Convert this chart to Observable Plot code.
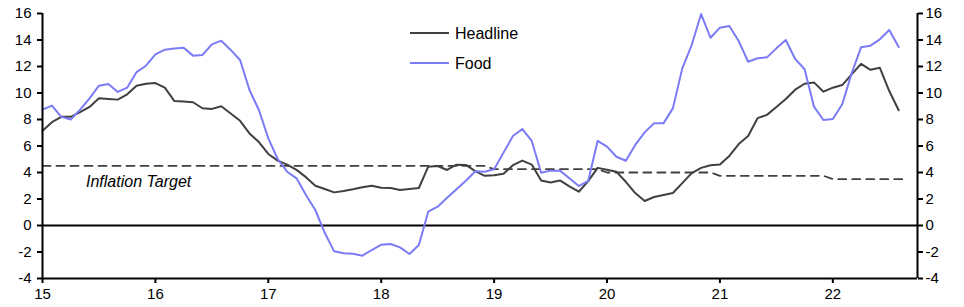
<!DOCTYPE html>
<html>
<head>
<meta charset="utf-8">
<script src="https://cdn.jsdelivr.net/npm/d3@7"></script>
<script src="https://cdn.jsdelivr.net/npm/@observablehq/plot@0.6"></script>
<style>
  html, body { margin: 0; padding: 0; background: #fff; }
  #wrap { position: relative; width: 964px; height: 307px; font-family: "Liberation Sans", Arial, sans-serif; }
  #overlay { position: absolute; left: 0; top: 0; pointer-events: none; }
</style>
</head>
<body>
<div id="wrap"></div>
<script>
// Monthly data, Jan 2015 .. Aug 2022 (y/y %)
const startYear = 2015;
const headline = [
  7.15, 7.8, 8.2, 8.2, 8.55, 8.95, 9.6, 9.55, 9.5, 9.9, 10.55, 10.7,
  10.75, 10.4, 9.4, 9.35, 9.3, 8.85, 8.8, 9.0, 8.45, 7.9, 6.95, 6.3,
  5.4, 4.9, 4.6, 4.2, 3.65, 3.0, 2.75, 2.5, 2.6, 2.73, 2.88, 3.0,
  2.85, 2.83, 2.68, 2.75, 2.83, 4.44, 4.49, 4.19, 4.59, 4.57, 4.1, 3.75,
  3.8, 3.9, 4.55, 4.9, 4.6, 3.4, 3.25, 3.4, 2.95, 2.55, 3.35, 4.35,
  4.2, 4.05, 3.3, 2.45, 1.85, 2.15, 2.3, 2.45, 3.2, 3.95, 4.35, 4.55,
  4.6, 5.25, 6.15, 6.75, 8.1, 8.35, 8.95, 9.55, 10.25, 10.7, 10.8, 10.1,
  10.4, 10.6, 11.4, 12.2, 11.75, 11.9, 10.15, 8.7
];
const food = [
  8.75, 9.05, 8.2, 8.0, 8.75, 9.6, 10.55, 10.68, 10.08, 10.4, 11.58, 12.06,
  12.92, 13.27, 13.35, 13.42, 12.82, 12.87, 13.67, 13.95, 13.25, 12.49, 10.23, 8.72,
  6.58, 5.02, 4.06, 3.56, 2.3, 1.17, -0.55, -1.95, -2.1, -2.13, -2.28, -1.85,
  -1.45, -1.4, -1.65, -2.15, -1.47, 1.04, 1.42, 2.1, 2.73, 3.38, 4.1, 4.06,
  4.24, 5.5, 6.75, 7.28, 6.38, 3.98, 4.14, 4.14, 3.56, 2.98, 3.36, 6.38,
  5.95, 5.19, 4.89, 6.08, 7.03, 7.71, 7.71, 8.84, 11.86, 13.62, 15.96, 14.17,
  14.93, 15.06, 13.92, 12.36, 12.62, 12.69, 13.37, 14.0, 12.57, 11.79, 8.97, 7.96,
  8.04, 9.15, 11.48, 13.45, 13.57, 14.05, 14.75, 13.47
];
const targetYears = [2015, 2016, 2017, 2018, 2019, 2020, 2021, 2022];
const targetValues = [4.5, 4.5, 4.5, 4.5, 4.25, 4.0, 3.75, 3.5];
const xTicks = [2015, 2016, 2017, 2018, 2019, 2020, 2021, 2022];
const yTicks = [-4, -2, 0, 2, 4, 6, 8, 10, 12, 14, 16];
const seriesNames = ["Headline", "Food"];
const seriesColors = ["#404040", "#7b7bf6"];
const targetLabel = "Inflation Target";

const xEnd = startYear + (headline.length + 1) / 12;
const rows = headline.map((v, i) => ({t: startYear + i / 12, headline: v, food: food[i]}));
const targetRows = d3.range(headline.length + 1).map(i => {
  const yr = startYear + Math.floor(i / 12);
  return {t: startYear + i / 12, target: targetValues[targetYears.indexOf(yr)]};
});

const fmtX = d => String(d - 2000);
const fmtY = d => String(d);
const chart = Plot.plot({
  width: 964,
  height: 307,
  marginLeft: 42,
  marginRight: 47,
  marginTop: 13,
  marginBottom: 29,
  style: {fontFamily: "'Liberation Sans', Arial, sans-serif", fontSize: "15px", color: "#000", background: "#fff"},
  x: {domain: [startYear, xEnd]},
  y: {domain: [-4, 16]},
  marks: [
    Plot.line(targetRows, {x: "t", y: "target", stroke: "#404040", strokeWidth: 1.8, strokeDasharray: "8,6"}),
    Plot.ruleY([0], {stroke: "#000", strokeWidth: 2}),
    Plot.line(rows, {x: "t", y: "headline", stroke: seriesColors[0], strokeWidth: 2}),
    Plot.line(rows, {x: "t", y: "food", stroke: seriesColors[1], strokeWidth: 2}),
    Plot.axisX({ticks: xTicks, tickFormat: fmtX, tickSize: 5, tickPadding: 5, strokeWidth: 2, fontSize: 15, label: null}),
    Plot.axisY({anchor: "left", ticks: yTicks, tickFormat: fmtY, tickSize: 5, tickPadding: 6, strokeWidth: 2, fontSize: 15, label: null}),
    Plot.axisY({anchor: "right", ticks: yTicks, tickFormat: fmtY, tickSize: 5, tickPadding: 3, strokeWidth: 2, fontSize: 15, label: null}),
    Plot.ruleX([startYear, xEnd], {stroke: "#000", strokeWidth: 2}),
    Plot.ruleY([-4], {stroke: "#000", strokeWidth: 2})
  ]
});
const wrap = document.getElementById("wrap");
wrap.appendChild(chart);

// Legend and annotation overlay
const ns = "http://www.w3.org/2000/svg";
const ov = document.createElementNS(ns, "svg");
ov.setAttribute("id", "overlay");
ov.setAttribute("width", 964);
ov.setAttribute("height", 307);
const legendY = [33, 63];
seriesNames.forEach((name, k) => {
  const ln = document.createElementNS(ns, "line");
  ln.setAttribute("x1", 410); ln.setAttribute("x2", 449);
  ln.setAttribute("y1", legendY[k]); ln.setAttribute("y2", legendY[k]);
  ln.setAttribute("stroke", seriesColors[k]); ln.setAttribute("stroke-width", 2);
  ov.appendChild(ln);
  const tx = document.createElementNS(ns, "text");
  tx.setAttribute("x", 455); tx.setAttribute("y", legendY[k] + 6);
  tx.setAttribute("font-size", 16);
  tx.setAttribute("font-family", "'Liberation Sans', Arial, sans-serif");
  tx.setAttribute("fill", "#000");
  tx.textContent = name;
  ov.appendChild(tx);
});
const ann = document.createElementNS(ns, "text");
ann.setAttribute("x", 86); ann.setAttribute("y", 187);
ann.setAttribute("font-size", 16);
ann.setAttribute("font-style", "italic");
ann.setAttribute("font-family", "'Liberation Sans', Arial, sans-serif");
ann.setAttribute("fill", "#000");
ann.textContent = targetLabel;
ov.appendChild(ann);
wrap.appendChild(ov);
</script>
</body>
</html>
